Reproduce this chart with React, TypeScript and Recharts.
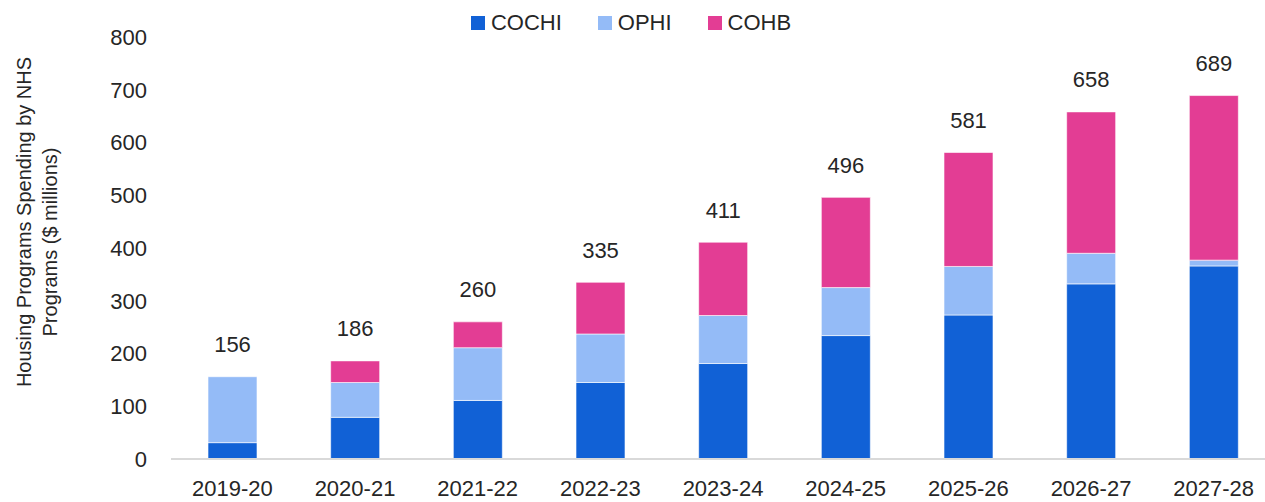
import React from "react"
import { BarChart, Bar, XAxis, YAxis, Legend, LabelList } from "recharts"

const years = ["2019-20", "2020-21", "2021-22", "2022-23", "2023-24", "2024-25", "2025-26", "2026-27", "2027-28"]
const cochi = [31, 79, 111, 145, 181, 234, 273, 332, 366]
const ophi = [125, 66, 100, 92, 91, 91, 92, 58, 11]
const cohb = [0, 41, 49, 98, 139, 171, 216, 268, 312]
const totals = [156, 186, 260, 335, 411, 496, 581, 658, 689]
const yTicks = [0, 100, 200, 300, 400, 500, 600, 700, 800]

const data = years.map((year, i) => ({
  year,
  COCHI: cochi[i],
  OPHI: ophi[i],
  COHB: cohb[i],
  total: totals[i],
}))

const FONT = "'Liberation Sans', Arial, sans-serif"
const TEXT = "#262626"
const colors = { COCHI: "#1161D6", OPHI: "#94BBF7", COHB: "#E33D94" }

function LegendContent() {
  const items = ["COCHI", "OPHI", "COHB"] as const
  return (
    <div style={{ display: "flex", justifyContent: "center", alignItems: "center", height: 28, fontFamily: FONT, fontSize: 22, color: TEXT }}>
      {items.map((k) => (
        <div key={k} style={{ display: "flex", alignItems: "center", marginRight: 36 }}>
          <span style={{ width: 14, height: 14, background: colors[k], display: "inline-block", marginRight: 6 }} />
          <span>{k}</span>
        </div>
      ))}
    </div>
  )
}

function TotalLabel(props: any) {
  const { x, y, width, value } = props
  return (
    <text x={x + width / 2} y={y - 32} textAnchor="middle" dominantBaseline="central" fontFamily={FONT} fontSize={22} fill={TEXT}>
      {value}
    </text>
  )
}

function AxisTitle() {
  const cy = 232
  return (
    <g fontFamily={FONT} fontSize={20} fill={TEXT}>
      <text transform={`translate(24, ${cy - 10}) rotate(-90)`} textAnchor="middle" dominantBaseline="central">
        Housing Programs Spending by NHS
      </text>
      <text transform={`translate(50, ${cy + 10}) rotate(-90)`} textAnchor="middle" dominantBaseline="central">
        Programs ($ millions)
      </text>
    </g>
  )
}

export default function App() {
  return (
    <div style={{ position: "absolute", left: 0, top: 0, width: 1265, height: 502, overflow: "hidden", background: "#fff" }}>
      <BarChart width={1290} height={502} data={data} margin={{ top: 9, right: 15, left: 0, bottom: 0 }} barSize={49}>
        <Legend verticalAlign="top" content={<LegendContent />} wrapperStyle={{ left: 0, width: 1298 }} />
        <XAxis
          dataKey="year"
          tickLine={false}
          axisLine={{ stroke: "#D9D9D9", strokeWidth: 2 }}
          tick={{ fill: TEXT, fontSize: 22, fontFamily: FONT }}
          tickMargin={15}
          height={43}
          interval={0}
        />
        <XAxis xAxisId="totals" dataKey="year" hide />
        <YAxis
          domain={[0, 800]}
          ticks={yTicks}
          tickLine={false}
          axisLine={false}
          tick={{ fill: TEXT, fontSize: 22, fontFamily: FONT }}
          tickMargin={18}
          width={171}
          label={{ content: <AxisTitle /> }}
        />
        <Bar dataKey="COCHI" stackId="a" fill={colors.COCHI} stroke="#ffffff" strokeWidth={0.6} isAnimationActive={false} />
        <Bar dataKey="OPHI" stackId="a" fill={colors.OPHI} stroke="#ffffff" strokeWidth={0.6} isAnimationActive={false} />
        <Bar dataKey="COHB" stackId="a" fill={colors.COHB} stroke="#ffffff" strokeWidth={0.6} isAnimationActive={false} />
        <Bar xAxisId="totals" dataKey="total" fill="transparent" isAnimationActive={false} legendType="none">
          <LabelList dataKey="total" content={<TotalLabel />} />
        </Bar>
      </BarChart>
    </div>
  )
}
